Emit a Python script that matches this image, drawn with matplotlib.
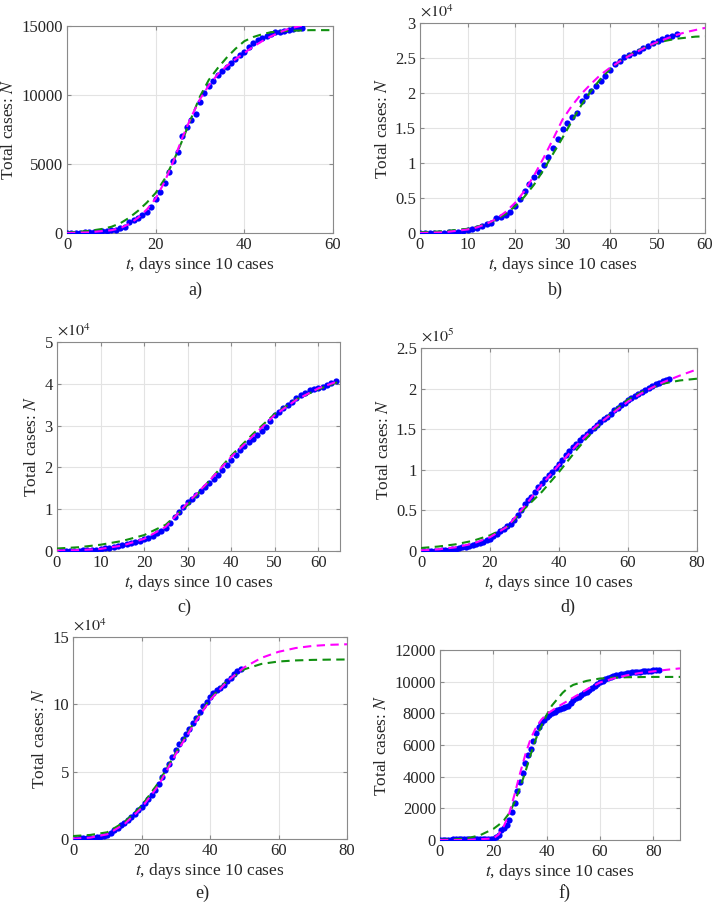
import matplotlib
matplotlib.use("Agg")
import matplotlib.pyplot as plt
from matplotlib.ticker import FixedLocator, FuncFormatter

plt.rcParams["font.family"] = ["Liberation Serif", "DejaVu Serif"]
plt.rcParams["mathtext.fontset"] = "stix"

# ---------------------------------------------------------------- panel a
A_DAYS = list(range(0, 54))
A_OBS = [10, 15, 20, 30, 40, 50, 70, 90, 110, 140, 190, 250, 330, 450, 780,
         920, 1100, 1300, 1550, 1850, 2450, 3000, 3600, 4450, 5250, 5850,
         7000, 7650, 8200, 8650, 9500, 10150, 10650, 11050, 11450, 11750,
         12050, 12300, 12600, 12900, 13150, 13450, 13800, 13950, 14100,
         14280, 14430, 14540, 14600, 14660, 14710, 14770, 14830, 14880]
A_MAG_T = [0, 5, 10, 12, 14, 16, 18, 20, 22, 24, 26, 28, 30, 32, 34, 36, 38,
           40, 42, 44, 46, 48, 50, 52, 54, 56, 58, 60]
A_MAG = [0, 50, 200, 350, 650, 1100, 1700, 2500, 3700, 5200, 6900, 8400,
         9700, 10700, 11500, 12100, 12600, 13050, 13500, 13900, 14250, 14550,
         14800, 14950, 15100, 15200, 15280, 15350]
A_GRN_T = [0, 5, 8, 10, 12, 14, 16, 18, 20, 22, 24, 26, 28, 30, 32, 34, 36,
           38, 40, 42, 44, 46, 50, 55, 60]
A_GRN = [30, 150, 300, 450, 700, 1100, 1600, 2200, 2900, 3900, 5200, 6700,
         8300, 9900, 11100, 11950, 12700, 13350, 13900, 14200, 14400, 14550,
         14650, 14700, 14700]

# ---------------------------------------------------------------- panel b
B_DAYS = list(range(0, 55))
B_OBS = [0, 5, 10, 20, 40, 60, 100, 150, 200, 300, 480, 620, 760, 950, 1240,
         1430, 2200, 2290, 2630, 2960, 3820, 4820, 6070, 7020, 8030, 8690,
         9700, 10800, 12130, 13380, 14810, 15760, 16620, 17200, 18820, 19630,
         20350, 21070, 21740, 22360, 23310, 24120, 24600, 25130, 25460, 25700,
         26040, 26420, 26750, 27130, 27420, 27710, 27990, 28190, 28380]
B_MAG_T = [0, 5, 10, 12, 14, 16, 18, 20, 22, 24, 26, 28, 30, 32, 34, 36, 38,
           40, 42, 44, 46, 48, 50, 52, 54, 56, 58, 60]
B_MAG = [0, 100, 500, 800, 1300, 2000, 3000, 4300, 6000, 8200, 10700, 13400,
         16200, 18200, 19900, 21300, 22600, 23600, 24500, 25300, 26000, 26700,
         27300, 27800, 28300, 28700, 29000, 29300]
B_GRN_T = [0, 5, 10, 12, 14, 16, 18, 20, 22, 24, 26, 28, 30, 32, 34, 36, 38,
           40, 42, 44, 46, 48, 50, 52, 54, 56, 58, 60]
B_GRN = [100, 250, 600, 900, 1300, 1900, 2700, 3800, 5200, 6900, 9000, 11300,
         13600, 16000, 18300, 20300, 22000, 23400, 24500, 25400, 26100, 26700,
         27200, 27500, 27750, 27900, 28050, 28100]

# ---------------------------------------------------------------- panel c
C_DAYS = list(range(1, 65))
C_OBS = [10, 20, 40, 60, 90, 130, 180, 250, 350, 480, 600, 750, 900, 1100,
         1350, 1600, 1900, 2200, 2500, 2800, 3200, 3700, 4300, 4900, 5600,
         6800, 8100, 9300, 10500, 11700, 12500, 13300, 14300, 15300, 16300,
         17300, 18300, 19300, 20500, 21800, 23000, 24200, 25200, 26100, 26900,
         27700, 28700, 29700, 31200, 32500, 33300, 34100, 34900, 35700, 36500,
         37300, 37900, 38400, 38700, 38900, 39300, 39700, 40200, 40600]
C_MAG_T = [0, 5, 10, 15, 20, 25, 30, 35, 40, 45, 50, 55, 60, 65]
C_MAG = [100, 200, 500, 1300, 2900, 5800, 11500, 16800, 22500, 27500, 32500,
         36200, 38900, 40800]
C_GRN_T = [0, 5, 10, 15, 20, 25, 30, 35, 40, 45, 50, 55, 60, 65]
C_GRN = [600, 900, 1500, 2400, 3800, 6300, 11000, 16800, 22800, 28000, 32800,
         36300, 38700, 40600]

# ---------------------------------------------------------------- panel d
D_DAYS = list(range(1, 73))
D_OBS = [50, 100, 200, 300, 450, 650, 900, 1300, 2000, 2900, 3700, 4500, 5300,
         6100, 7000, 8300, 9600, 11000, 13000, 15200, 18000, 21300, 24500,
         27500, 30500, 33700, 38500, 43900, 51000, 58300, 62500, 66500, 72500,
         78800, 84000, 89100, 93500, 97300, 102000, 107500, 112500, 117800,
         123000, 128000, 132000, 136300, 140500, 144500, 148300, 151900,
         155500, 158900, 162000, 165000, 169000, 173200, 176300, 179400,
         182500, 185500, 188000, 190500, 193200, 195800, 198500, 201100,
         203200, 205300, 207100, 208900, 210600, 212200]
D_MAG_T = [0, 5, 10, 15, 20, 25, 30, 35, 40, 45, 50, 55, 60, 65, 70, 75, 80]
D_MAG = [800, 2000, 4500, 9000, 17000, 30000, 55000, 82000, 106000, 130000,
         151000, 168000, 184000, 197000, 207500, 216000, 223700]
D_GRN_T = [0, 5, 10, 15, 20, 25, 30, 35, 40, 45, 50, 55, 60, 65, 70, 75, 80]
D_GRN = [3700, 5500, 8200, 12500, 19300, 29600, 52000, 72700, 97300, 124000,
         148600, 169100, 186400, 197900, 206000, 210000, 212200]

# ---------------------------------------------------------------- panel e
E_DAYS = list(range(1, 50))
E_OBS = [300, 400, 500, 700, 900, 1100, 1400, 1700, 2000, 2700, 4500, 6400,
         8200, 10100, 12000, 13900, 16300, 18800, 21300, 23800, 26900, 30000,
         33000, 36100, 41000, 46000, 51000, 55900, 60800, 65800, 70200, 74500,
         78200, 81900, 86000, 90100, 94300, 98500, 102000, 105400, 108200,
         110900, 112500, 114100, 117000, 119800, 122300, 124800, 126000]
E_MAG_T = [0, 5, 10, 15, 20, 25, 30, 35, 40, 45, 50, 55, 60, 65, 70, 75, 80]
E_MAG = [200, 1000, 3500, 11000, 23000, 40000, 63000, 84000, 103000, 117000,
         127500, 134500, 139000, 141800, 143400, 144200, 144600]
E_GRN_T = [0, 5, 10, 15, 20, 25, 30, 35, 40, 45, 50, 55, 60, 65, 70, 75, 80]
E_GRN = [2200, 3000, 5000, 12500, 24500, 42000, 64000, 85000, 104000, 117500,
         126000, 130000, 131800, 132600, 133000, 133200, 133300]

# ---------------------------------------------------------------- panel f
F_DAYS = list(range(0, 83))
F_OBS = [10, 15, 20, 25, 30, 35, 40, 45, 50, 50, 50, 50, 50, 50, 50, 50, 50,
         50, 50, 50, 60, 170, 320, 630, 740, 950, 1260, 1790, 2320, 3120,
         3680, 4210, 4840, 5370, 5750, 6270, 6780, 7160, 7370, 7580, 7790,
         7890, 8000, 8110, 8210, 8270, 8320, 8380, 8460, 8670, 8840, 8950,
         9050, 9160, 9260, 9370, 9470, 9580, 9730, 9830, 9960, 10060, 10170,
         10230, 10320, 10360, 10400, 10440, 10480, 10510, 10540, 10560, 10580,
         10600, 10620, 10640, 10660, 10680, 10690, 10700, 10710, 10720, 10730]
F_MAG_T = [0, 10, 20, 22, 24, 26, 28, 30, 32, 34, 36, 38, 40, 44, 48, 52, 56,
           60, 65, 70, 75, 80, 85, 90]
F_MAG = [0, 0, 100, 350, 900, 1700, 2900, 4200, 5400, 6400, 7100, 7600, 7950,
         8400, 8800, 9200, 9600, 9950, 10200, 10400, 10550, 10650, 10750, 10840]
F_GRN_T = [0, 5, 10, 15, 20, 22, 24, 26, 28, 30, 32, 34, 36, 38, 40, 42, 44,
           46, 48, 50, 55, 60, 65, 70, 80, 90]
F_GRN = [20, 40, 100, 300, 700, 950, 1250, 1700, 2400, 3300, 4300, 5400, 6400,
         7200, 7900, 8500, 8900, 9300, 9600, 9800, 10050, 10200, 10250, 10280,
         10300, 10300]

W, H = 714, 902


def px_axes(fig, x0, y0, x1, y1):
    return fig.add_axes([x0 / W, 1 - y1 / H, (x1 - x0) / W, (y1 - y0) / H])


def draw(ax, days, obs, mt, mag, gt, grn, xlim, xticks, ylim, yticks, exp):
    ax.plot(days, obs, "o", color="#0000ff", ms=4.5, mec="none", zorder=3)
    ax.plot(gt, grn, color="#109010", lw=1.5, dashes=(4, 2.6), zorder=4)
    ax.plot(mt, mag, color="#ff00ff", lw=1.5, dashes=(4, 2.6), zorder=4)
    ax.set_xlim(*xlim)
    ax.set_ylim(*ylim)
    ax.xaxis.set_major_locator(FixedLocator(xticks))
    ax.yaxis.set_major_locator(FixedLocator(yticks))
    if exp:
        ax.yaxis.set_major_formatter(
            FuncFormatter(lambda v, p: f"{v / 10 ** exp:g}"))
        ax.text(0.0, 1.012, r"$\times10^{%d}$" % exp, transform=ax.transAxes,
                fontsize=11.5, ha="left", va="bottom", color="#262626")
    else:
        ax.yaxis.set_major_formatter(FuncFormatter(lambda v, p: f"{v:g}"))
    ax.grid(True, color="#e3e3e3", lw=0.8)
    ax.set_axisbelow(True)
    for s in ax.spines.values():
        s.set_color("#8a8a8a")
        s.set_linewidth(0.8)
    ax.tick_params(direction="in", length=3, color="#8a8a8a",
                   labelsize=12, labelcolor="#262626", top=True, right=True,
                   labeltop=False, labelright=False, pad=3)
    ax.set_xlabel(r"$t$, days since 10 cases", fontsize=12.5, labelpad=1,
                  color="#262626")
    ax.set_ylabel(r"Total cases: $N$", fontsize=12.5, labelpad=3,
                  color="#262626")


fig = plt.figure(figsize=(W / 100, H / 100), dpi=100)

ax = px_axes(fig, 67, 26, 333, 233)
draw(ax, A_DAYS, A_OBS, A_MAG_T, A_MAG, A_GRN_T, A_GRN, (0, 60),
     [0, 20, 40, 60], (0, 15000), [0, 5000, 10000, 15000], 0)

ax = px_axes(fig, 420, 23, 705, 233)
draw(ax, B_DAYS, B_OBS, B_MAG_T, B_MAG, B_GRN_T, B_GRN, (0, 60),
     [0, 10, 20, 30, 40, 50, 60], (0, 30000),
     [0, 5000, 10000, 15000, 20000, 25000, 30000], 4)

ax = px_axes(fig, 57, 342, 340, 551)
draw(ax, C_DAYS, C_OBS, C_MAG_T, C_MAG, C_GRN_T, C_GRN, (0, 65),
     [0, 10, 20, 30, 40, 50, 60], (0, 50000),
     [0, 10000, 20000, 30000, 40000, 50000], 4)

ax = px_axes(fig, 421, 348, 697, 551)
draw(ax, D_DAYS, D_OBS, D_MAG_T, D_MAG, D_GRN_T, D_GRN, (0, 80),
     [0, 20, 40, 60, 80], (0, 250000),
     [0, 50000, 100000, 150000, 200000, 250000], 5)

ax = px_axes(fig, 73, 637, 347, 839)
draw(ax, E_DAYS, E_OBS, E_MAG_T, E_MAG, E_GRN_T, E_GRN, (0, 80),
     [0, 20, 40, 60, 80], (0, 150000), [0, 50000, 100000, 150000], 4)

ax = px_axes(fig, 440, 650, 680, 840)
draw(ax, F_DAYS, F_OBS, F_MAG_T, F_MAG, F_GRN_T, F_GRN, (0, 90),
     [0, 20, 40, 60, 80], (0, 12000),
     [0, 2000, 4000, 6000, 8000, 10000, 12000], 0)

for lab, x, y in [("a)", 195, 290), ("b)", 555, 290), ("c)", 184, 607),
                  ("d)", 568, 607), ("e)", 202, 893), ("f)", 564, 893)]:
    fig.text(x / W, 1 - y / H, lab, fontsize=13, ha="center", va="center",
             color="#262626")

fig.savefig("out.png", dpi=100)
